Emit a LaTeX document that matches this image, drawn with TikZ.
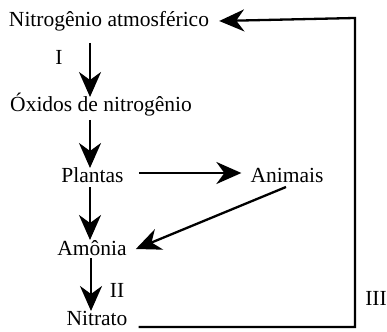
\documentclass[tikz,border=0pt]{standalone}
\usepackage{fontspec}
\setmainfont{Liberation Serif}
\usetikzlibrary{arrows.meta,calc}
\begin{document}
\begin{tikzpicture}[x=1pt,y=-1pt,
  lbl/.style={anchor=base,inner sep=0pt,font=\fontsize{21.5}{25}\selectfont},
  arr/.style={line width=2.3pt,-{Stealth[length=25pt,width=22pt,inset=8pt]}},
  ln/.style={line width=2.3pt}]
\useasboundingbox (0,0) rectangle (387,331);
\coordinate (col) at (90,0);
\node[lbl] (na) at (109,27) {Nitrogênio atmosférico};
\node[lbl] (ox) at (101,112) {Óxidos de nitrogênio};
\node[lbl] (pl) at (92.5,182) {Plantas};
\node[lbl] (an) at (287,182) {Animais};
\node[lbl] (am) at (92,255) {Amônia};
\node[lbl] (ni) at (97,325) {Nitrato};
\node[lbl] (l1) at (59,65) {I};
\node[lbl] (l2) at (117,297) {II};
\node[lbl] (l3) at (376,305) {III};
\coordinate (c1) at (355,327);
\coordinate (c2) at (355,18);
\draw[arr] ($(na.base -| col)+(0,16)$) -- ($(ox.base -| col)+(0,-15)$);
\draw[arr] ($(ox.base -| col)+(0,8)$) -- ($(pl.base -| col)+(0,-14)$);
\draw[arr] ($(pl.base -| col)+(0,5)$) -- ($(am.base -| col)+(0,-15)$);
\draw[arr] ($(am.base -| col)+(1,3)$) -- ($(ni.base -| col)+(1,-14)$);
\draw[arr] ($(pl.base east)+(15,-9)$) -- ($(an.base west)+(-9,-9)$);
\draw[arr] ($(an.base)+(-1,5)$) -- ($(am.base east)+(9,-6)$);
\draw[arr,line join=miter] ($(ni.base east)+(11,2)$) -- (c1) -- (c2) -- ($(na.base east)+(10,-6)$);
\end{tikzpicture}
\end{document}
